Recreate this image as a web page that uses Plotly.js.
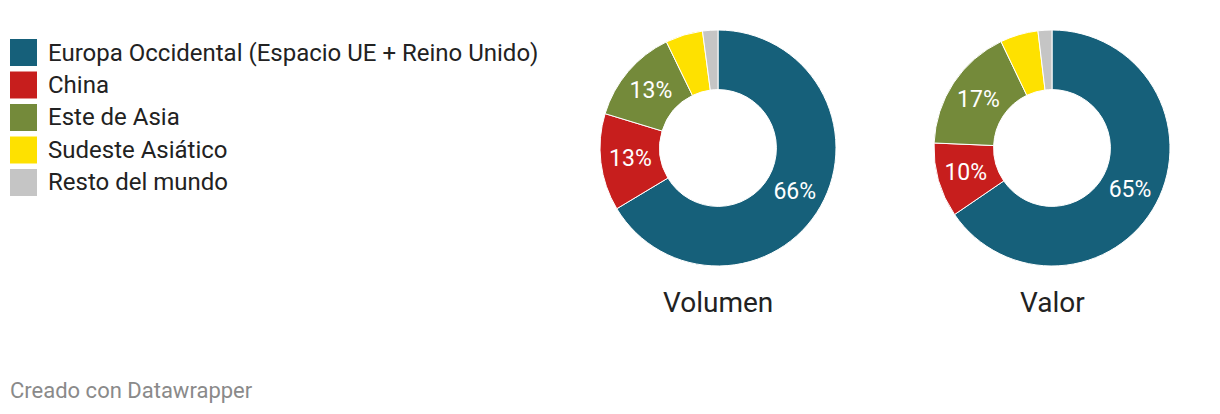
<!DOCTYPE html>
<html>
<head>
<meta charset="utf-8">
<script src="https://cdn.plot.ly/plotly-3.0.1.min.js"></script>
<style>
  html, body { margin: 0; padding: 0; background: #fff; }
  #chart { width: 1220px; height: 414px; }
</style>
</head>
<body>
<div id="chart"></div>
<script>
// ---- data ----
const categories = [
  "Europa Occidental (Espacio UE + Reino Unido)",
  "China",
  "Este de Asia",
  "Sudeste Asiático",
  "Resto del mundo"
];
const volumenValues = [66.4, 13.3, 13.1, 5.1, 2.1];
const valorValues   = [65.4, 10.2, 17.2, 5.2, 1.9];
const chartTitles = ["Volumen", "Valor"];
const footerText = "Creado con Datawrapper";

// ---- styles ----
const colors = ["#16607a", "#c71e1d", "#748a3a", "#fee100", "#c5c5c5"];
const W = 1220, H = 414;
const FONT = "Roboto, 'Noto Sans', sans-serif";

function labelTemplates(values) {
  const total = values.reduce((a, b) => a + b, 0);
  return values.map(v => (v / total >= 0.08 ? "%{percent:.0%}" : ""));
}

function pieTrace(values, cx, cy, r) {
  return {
    type: "pie",
    labels: categories,
    values: values,
    sort: false,
    direction: "clockwise",
    rotation: 0,
    hole: 0.495,
    marker: { colors: colors, line: { color: "#ffffff", width: 1 } },
    texttemplate: labelTemplates(values),
    textposition: "inside",
    insidetextorientation: "horizontal",
    insidetextfont: { family: FONT, size: 23, color: "#ffffff" },
    hoverinfo: "label+percent",
    showlegend: false,
    domain: {
      x: [(cx - r) / W, (cx + r) / W],
      y: [(H - cy - r) / H, (H - cy + r) / H]
    }
  };
}

const pies = [
  { values: volumenValues, cx: 718, cy: 148, r: 118 },
  { values: valorValues,   cx: 1052, cy: 148, r: 118 }
];

const data = pies.map(p => pieTrace(p.values, p.cx, p.cy, p.r));

const shapes = [];
const annotations = [];

// custom legend
categories.forEach((c, i) => {
  const yTop = 39 + i * 32.5;
  shapes.push({
    type: "rect", xref: "paper", yref: "paper",
    x0: 10 / W, x1: 37 / W,
    y0: 1 - (yTop + 27) / H, y1: 1 - yTop / H,
    fillcolor: colors[i], line: { width: 0 }
  });
  annotations.push({
    xref: "paper", yref: "paper",
    x: 46 / W, y: 1 - (yTop + 13.5) / H,
    xanchor: "left", yanchor: "middle",
    text: c, showarrow: false,
    font: { family: FONT, size: 24, color: "#222222" }
  });
});

// titles under donuts
pies.forEach((p, i) => {
  annotations.push({
    xref: "paper", yref: "paper",
    x: p.cx / W, y: 1 - 302 / H,
    xanchor: "center", yanchor: "middle",
    text: chartTitles[i], showarrow: false,
    font: { family: FONT, size: 28, color: "#222222" }
  });
});

// footer
annotations.push({
  xref: "paper", yref: "paper",
  x: 8 / W, y: 1 - 390 / H,
  xanchor: "left", yanchor: "middle",
  text: footerText, showarrow: false,
  font: { family: FONT, size: 22, color: "#8a8a8a" }
});

const layout = {
  width: W, height: H,
  margin: { l: 0, r: 0, t: 0, b: 0 },
  paper_bgcolor: "#ffffff",
  plot_bgcolor: "#ffffff",
  showlegend: false,
  font: { family: FONT },
  shapes: shapes,
  annotations: annotations
};

Plotly.newPlot("chart", data, layout, { displayModeBar: false, staticPlot: true });
</script>
</body>
</html>
